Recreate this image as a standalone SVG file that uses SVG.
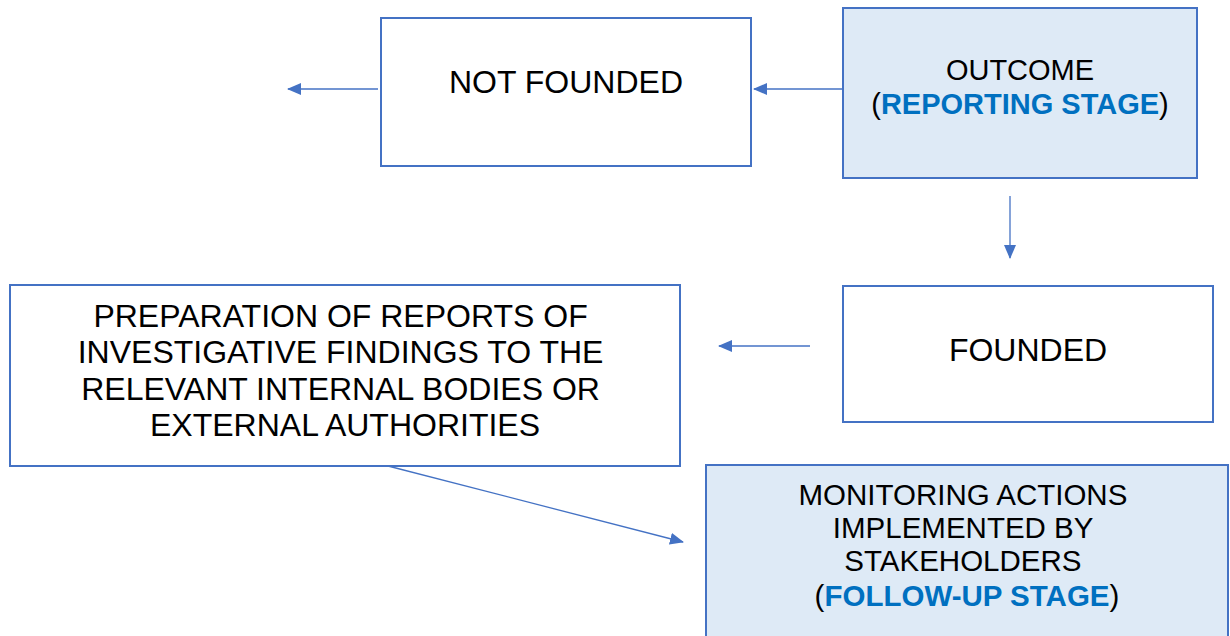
<svg xmlns="http://www.w3.org/2000/svg" width="1230" height="636" viewBox="0 0 1230 636">
<style>
.box{fill:#ffffff;stroke:#4472c4;stroke-width:2}
.hl{fill:#deeaf6;stroke:#4472c4;stroke-width:2}
.t{font-family:"Liberation Sans",Arial,sans-serif;fill:#000;text-anchor:middle}
.b{font-weight:bold;fill:#0070c0}
.c{stroke:#4472c4;stroke-width:1.3;fill:none;marker-end:url(#ah)}
</style>
<defs>
<marker id="ah" viewBox="0 0 14 12" refX="13" refY="6" markerWidth="14" markerHeight="12" markerUnits="userSpaceOnUse" orient="auto">
<path d="M0,0 L14,6 L0,12 Z" fill="#4472c4"/>
</marker>
</defs>
<rect width="1230" height="636" fill="#ffffff"/>
<g id="connectors">
<line class="c" x1="378" y1="89" x2="288" y2="89"/>
<line class="c" x1="843" y1="89" x2="754" y2="89"/>
<line class="c" x1="1010" y1="196" x2="1010" y2="258"/>
<line class="c" x1="810" y1="346" x2="719" y2="346"/>
<line class="c" x1="388" y1="466" x2="683" y2="542"/>
</g>
<g id="not-founded">
<rect class="box" x="381" y="18" width="370" height="148"/>
<text class="t" x="566" y="93" font-size="32">NOT FOUNDED</text>
</g>
<g id="outcome">
<rect class="hl" x="843" y="8" width="354" height="170"/>
<text class="t" x="1020" y="80" font-size="29">OUTCOME</text>
<text class="t" x="1020" y="114" font-size="29">(<tspan class="b">REPORTING STAGE</tspan>)</text>
</g>
<g id="founded">
<rect class="box" x="843" y="286" width="370" height="136"/>
<text class="t" x="1028" y="361" font-size="32">FOUNDED</text>
</g>
<g id="preparation">
<rect class="box" x="10" y="285" width="670" height="181"/>
<text class="t" font-size="32">
<tspan x="345" y="327">PREPARATION OF REPORTS OF</tspan>
<tspan x="345" y="363">INVESTIGATIVE FINDINGS TO THE</tspan>
<tspan x="345" y="400">RELEVANT INTERNAL BODIES OR</tspan>
<tspan x="345" y="436">EXTERNAL AUTHORITIES</tspan>
</text>
</g>
<g id="monitoring">
<rect class="hl" x="706" y="465" width="522" height="180"/>
<text class="t" font-size="29.5">
<tspan x="967" y="505">MONITORING ACTIONS</tspan>
<tspan x="967" y="538">IMPLEMENTED BY</tspan>
<tspan x="967" y="571">STAKEHOLDERS</tspan>
<tspan x="967" y="606">(<tspan class="b">FOLLOW-UP STAGE</tspan>)</tspan>
</text>
</g>
</svg>
